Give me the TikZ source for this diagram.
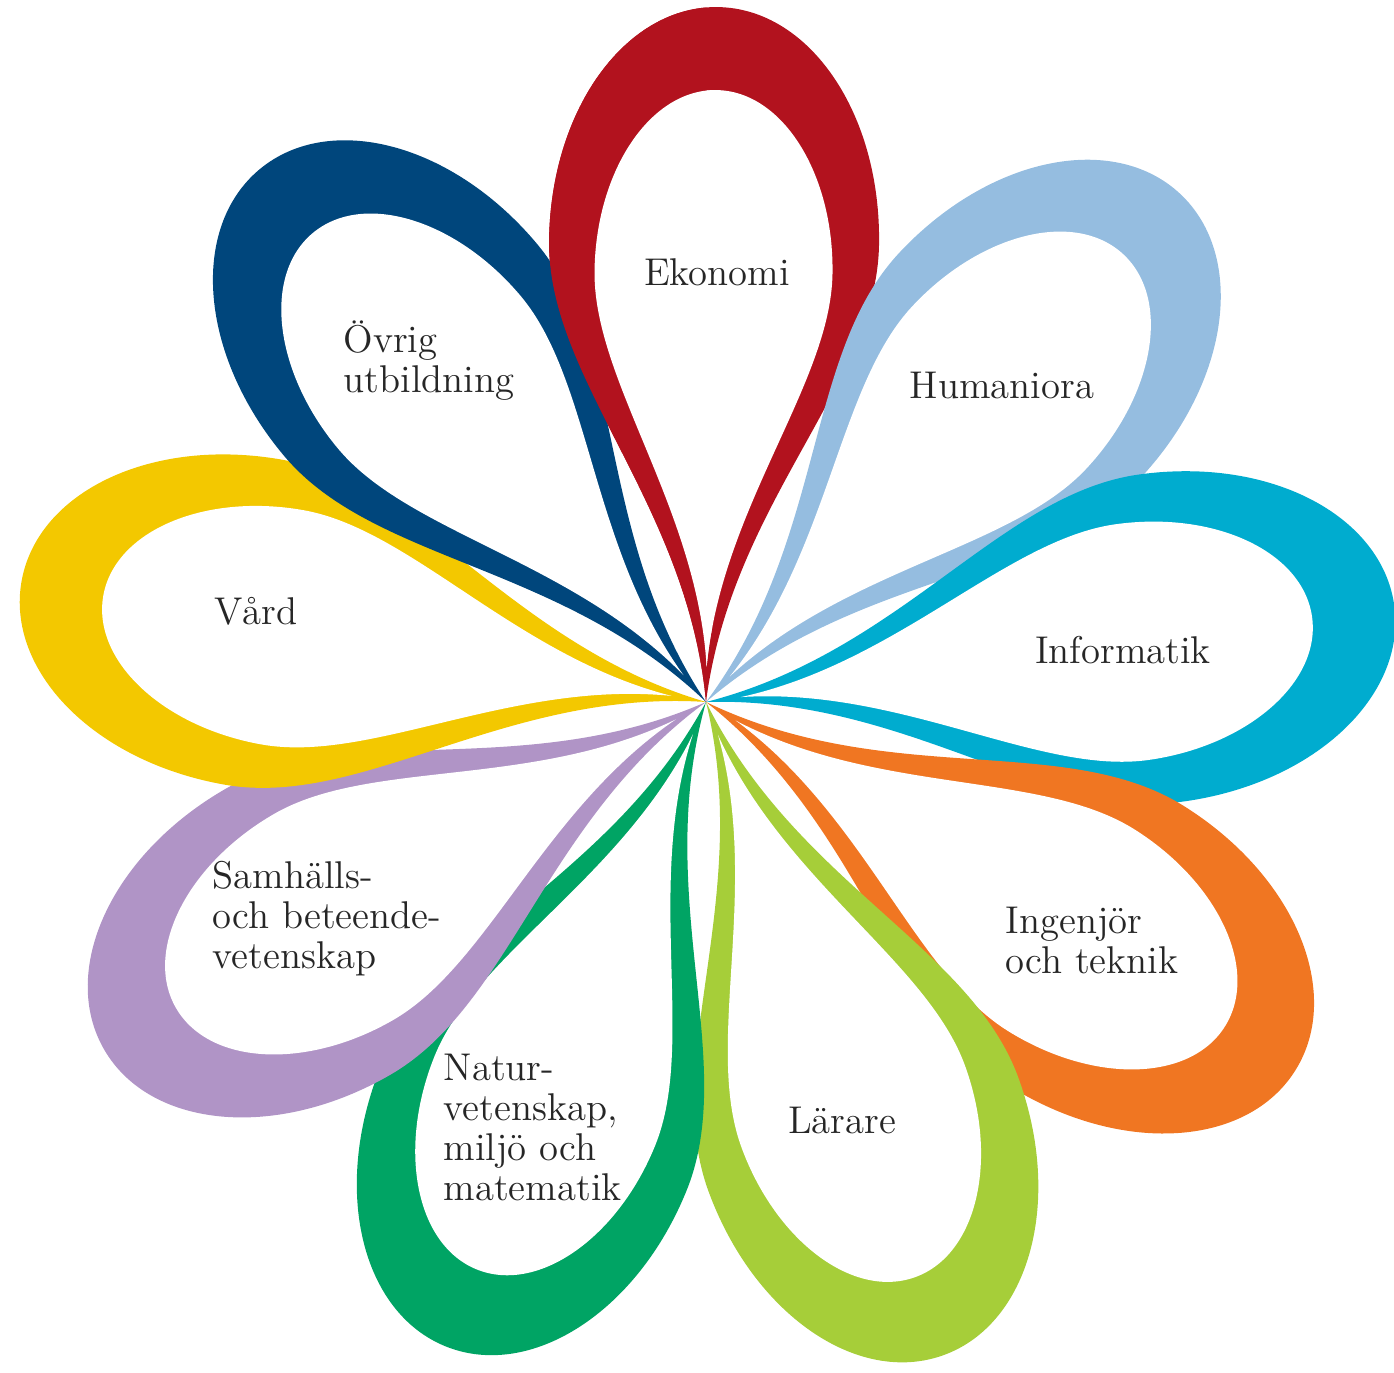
\documentclass[tikz,border=0pt]{standalone}
\definecolor{ekred}{RGB}{178,18,30}
\definecolor{humblue}{RGB}{149,189,224}
\definecolor{infcyan}{RGB}{0,172,207}
\definecolor{ingorange}{RGB}{240,118,34}
\definecolor{larlime}{RGB}{166,206,57}
\definecolor{natgreen}{RGB}{0,164,100}
\definecolor{sampurple}{RGB}{176,148,198}
\definecolor{vardyellow}{RGB}{243,200,0}
\definecolor{ovrnavy}{RGB}{0,70,124}
\tikzset{
  band/.pic={
    \fill[#1] (0,0) .. controls (200,-22) and (320,-165) .. (460,-165)
      .. controls (592,-165) and (695,-91) .. (695,0)
      .. controls (695,91) and (592,165) .. (460,165)
      .. controls (320,165) and (200,22) .. (0,0) -- cycle;
  },
  hole/.pic={
    \fill[white] (35,0) .. controls (195,-12) and (320,-119) .. (430,-119)
      .. controls (530,-119) and (612,-66) .. (612,0)
      .. controls (612,66) and (530,119) .. (430,119)
      .. controls (320,119) and (195,12) .. (35,0) -- cycle;
  },
  lbl/.style={font=\fontsize{11}{11.4}\selectfont, text=black!85, inner sep=0pt}
}
\begin{document}
\begin{tikzpicture}[x=0.01cm,y=0.01cm]
\useasboundingbox (0,0) rectangle (1394,1373);
\coordinate (C) at (706,671);
\foreach \a/\c in {89/ekred,47/humblue,8/infcyan,-32/ingorange,-70/larlime,-112/natgreen,-150/sampurple,170/vardyellow,130/ovrnavy}
{
\pic[rotate=\a] at (C) {band=\c};
\pic[rotate=\a] at (C) {hole};
}
\begin{scope}
\clip (0,0) rectangle (706,1373);
\pic[rotate=89] at (C) {band=ekred};
\end{scope}
\begin{scope}
\clip (0,0) rectangle (712,1373);
\pic[rotate=89] at (C) {hole};
\end{scope}
\node (ekonomi) at (717,1087) [lbl, anchor=base] {Ekonomi};
\node (humaniora) at (1002,974) [lbl, anchor=base] {Humaniora};
\node (informatik) at (1123,709) [lbl, anchor=base] {Informatik};
\node (ingenjor) at (1005,399) [lbl, anchor=base west, align=left] {Ingenjör\\och teknik};
\node (larare) at (842,239) [lbl, anchor=base] {Lärare};
\node (natur) at (443,172) [lbl, anchor=base west, align=left] {Natur-\\vetenskap,\\miljö och\\matematik};
\node (samhalls) at (212,404) [lbl, anchor=base west, align=left] {Samhälls-\\och beteende-\\vetenskap};
\node (vard) at (256,748) [lbl, anchor=base] {Vård};
\node (ovrig) at (343,980) [lbl, anchor=base west, align=left] {Övrig\\utbildning};
\end{tikzpicture}
\end{document}
